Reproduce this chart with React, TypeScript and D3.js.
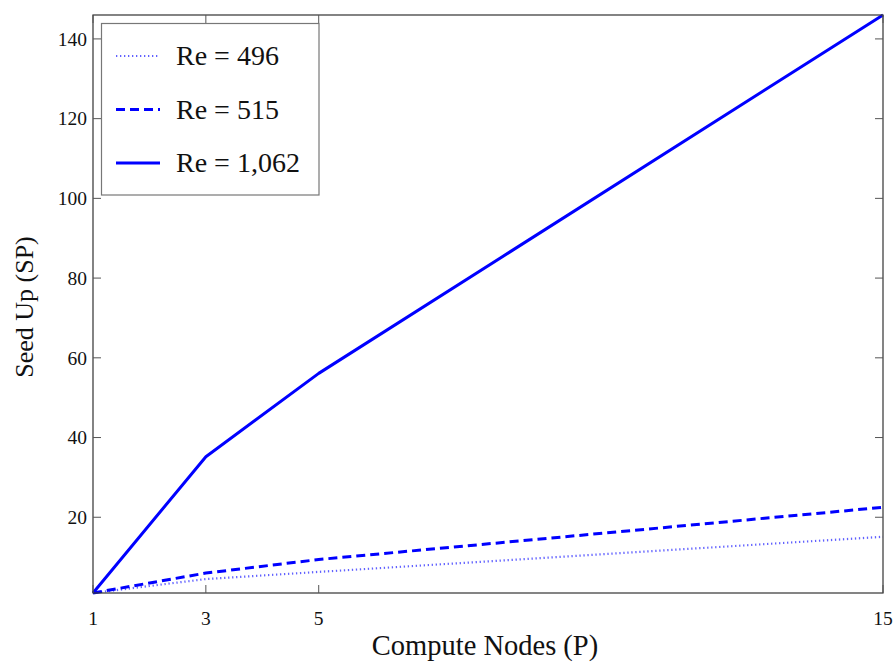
import React from "react";
import * as d3 from "d3";

// Compute nodes (P) and measured speed-up for each Reynolds number
const nodes = [1, 3, 5, 15];
const re496 = [1, 4.5, 6.3, 15.1];
const re515 = [1, 6.0, 9.4, 22.5];
const re1062 = [1, 35.2, 56.1, 146];

const xTicks = [1, 3, 5, 15];
const yTicks = [20, 40, 60, 80, 100, 120, 140];

const seriesNames = ["Re = 496", "Re = 515", "Re = 1,062"];

const W = 895;
const H = 664;
const margin = { left: 93, top: 15, right: 12, bottom: 71 };

export default function App() {
  const x = d3.scaleLinear().domain([1, 15]).range([margin.left, W - margin.right]);
  const y = d3.scaleLinear().domain([1, 146]).range([H - margin.bottom, margin.top]);
  const line = d3
    .line<[number, number]>()
    .x((d) => x(d[0]))
    .y((d) => y(d[1]));

  const styles = [
    { width: 2.2, dash: "1.3,2.7", color: "#3a3aff", opacity: 0.8 },
    { width: 3, dash: "9,5", color: "#0000ff", opacity: 1 },
    { width: 3, dash: "none", color: "#0000ff", opacity: 1 },
  ];
  const series = [re496, re515, re1062];

  const x0 = x(1), x1 = x(15), y0 = y(1), y1 = y(146);
  const font = "'Liberation Serif', 'Times New Roman', serif";
  const tickLen = 8;
  const tickColor = "#555";

  return (
    <svg
      width={W}
      height={H}
      style={{ position: "absolute", left: 0, top: 0, background: "#fff" }}
      fontFamily={font}
    >
      {/* data lines */}
      {series.map((s, i) => (
        <path
          key={i}
          d={line(nodes.map((n, k) => [n, s[k]] as [number, number])) || ""}
          fill="none"
          stroke={styles[i].color}
          strokeWidth={styles[i].width}
          strokeDasharray={styles[i].dash}
          strokeOpacity={styles[i].opacity}
          strokeLinejoin="round"
        />
      ))}

      {/* frame */}
      <rect x={x0} y={y1} width={x1 - x0} height={y0 - y1} fill="none" stroke="#333" strokeWidth={1.2} />

      {/* x ticks (bottom and top, inward) */}
      {xTicks.map((t) => (
        <g key={"x" + t}>
          <line x1={x(t)} x2={x(t)} y1={y0} y2={y0 - tickLen} stroke={tickColor} strokeWidth={1} />
          <line x1={x(t)} x2={x(t)} y1={y1} y2={y1 + tickLen} stroke={tickColor} strokeWidth={1} />
          <text x={x(t)} y={y0 + 32} textAnchor="middle" fontSize={19.5} fill="#111">
            {t}
          </text>
        </g>
      ))}

      {/* y ticks (left and right, inward) */}
      {yTicks.map((t) => (
        <g key={"y" + t}>
          <line x1={x0} x2={x0 + tickLen} y1={y(t)} y2={y(t)} stroke={tickColor} strokeWidth={1} />
          <line x1={x1} x2={x1 - tickLen} y1={y(t)} y2={y(t)} stroke={tickColor} strokeWidth={1} />
          <text x={x0 - 6} y={y(t)} dy="0.35em" textAnchor="end" fontSize={19.5} fill="#111">
            {t}
          </text>
        </g>
      ))}

      {/* axis titles */}
      <text x={(x0 + x1) / 2 - 3} y={655} textAnchor="middle" fontSize={28.5} fill="#111">
        Compute Nodes (P)
      </text>
      <text
        transform={`translate(33, ${(y0 + y1) / 2 + 3}) rotate(-90)`}
        textAnchor="middle"
        fontSize={26}
        fill="#111"
      >
        Seed Up (SP)
      </text>

      {/* legend */}
      <rect x={101.5} y={23.5} width={217.5} height={171.5} fill="#fff" stroke="#777" strokeWidth={1.2} />
      {seriesNames.map((name, i) => {
        const ly = 56 + i * 53.5;
        return (
          <g key={name}>
            <line
              x1={116}
              x2={160}
              y1={ly}
              y2={ly}
              stroke={styles[i].color}
              strokeWidth={styles[i].width}
              strokeDasharray={styles[i].dash}
              strokeOpacity={styles[i].opacity}
            />
            <text x={176} y={ly + 9} fontSize={28} fill="#111">
              {name}
            </text>
          </g>
        );
      })}
    </svg>
  );
}
